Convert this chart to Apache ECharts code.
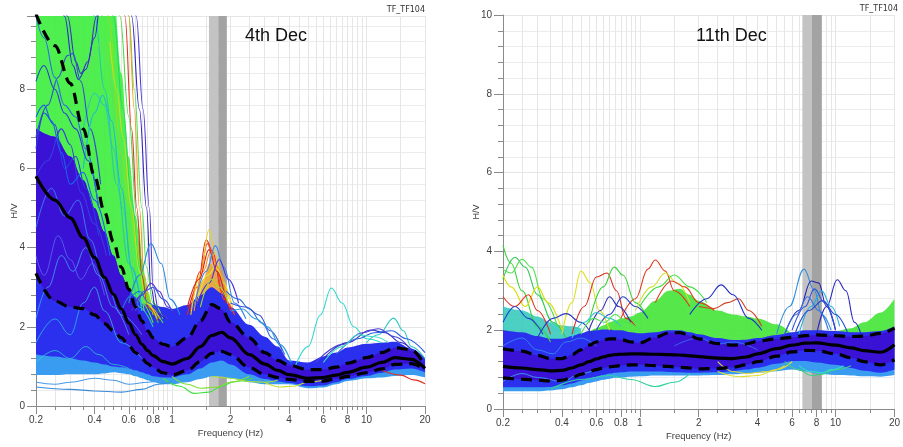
<!DOCTYPE html>
<html>
<head>
<meta charset="utf-8">
<script src="https://cdn.jsdelivr.net/npm/echarts@6/dist/echarts.min.js"></script>
<style>
  html, body { margin: 0; padding: 0; background: #ffffff; }
  #chart { width: 903px; height: 447px; }
</style>
</head>
<body>
<div id="chart"></div>
<script>
// ---------- shared frequency grid (Hz) ----------
const freqs = [0.2, 0.25, 0.3, 0.35, 0.4, 0.45, 0.5, 0.55, 0.6, 0.65, 0.7, 0.75, 0.8, 0.9, 1.0,
               1.2, 1.4, 1.6, 1.8, 2.0, 2.5, 3.0, 3.5, 4.0, 5.0, 6.0, 7.0, 8.0, 10, 12, 14, 17, 20];
const labelFreqs = [0.2, 0.4, 0.6, 0.8, 1, 2, 4, 6, 8, 10, 20];
const tickFreqs = [0.2, 0.25, 0.3, 0.35, 0.4, 0.45, 0.5, 0.55, 0.6, 0.65, 0.7, 0.75, 0.8, 0.85, 0.9, 0.95, 1,
                   1.5, 2, 2.5, 3, 3.5, 4, 4.5, 5, 5.5, 6, 6.5, 7, 7.5, 8, 8.5, 9, 9.5, 10, 15, 20];

// ---------- 4th Dec : average H/V and +/- one standard deviation ----------
const dec4Mean  = [5.8, 5.2, 4.75, 4.25, 3.75, 3.25, 2.82, 2.45, 2.1, 1.8, 1.56, 1.4, 1.27, 1.12, 1.06,
                   1.2, 1.5, 1.78, 1.86, 1.72, 1.3, 1.06, 0.9, 0.79, 0.7, 0.72, 0.78, 0.85, 0.98, 1.1, 1.22, 1.18, 0.95];
const dec4Upper = [9.9, 9.1, 8.15, 7.0, 5.8, 4.9, 4.15, 3.5, 2.95, 2.5, 2.15, 1.9, 1.72, 1.56, 1.5,
                   1.72, 2.15, 2.56, 2.45, 2.12, 1.72, 1.35, 1.15, 1.03, 0.92, 0.92, 0.98, 1.08, 1.22, 1.35, 1.47, 1.42, 1.02];
const dec4Lower = [3.35, 2.65, 2.5, 2.46, 2.3, 2.08, 1.9, 1.72, 1.52, 1.35, 1.2, 1.07, 0.97, 0.84, 0.78,
                   0.9, 1.12, 1.33, 1.38, 1.3, 0.97, 0.8, 0.72, 0.67, 0.62, 0.63, 0.69, 0.75, 0.84, 0.94, 1.05, 1.07, 0.92];
// spread of the bulk of the windows
const dec4CloudTop    = [7.0, 6.8, 6.3, 5.7, 5.0, 4.4, 3.8, 3.3, 2.95, 2.75, 2.6, 2.55, 2.55, 2.5, 2.45,
                         2.55, 2.8, 3.0, 2.85, 2.5, 2.05, 1.75, 1.5, 1.15, 1.1, 1.25, 1.35, 1.48, 1.57, 1.6, 1.62, 1.45, 1.2];
const dec4CloudBottom = [1.3, 1.25, 1.2, 1.15, 1.1, 1.05, 1.0, 0.98, 0.95, 0.9, 0.85, 0.8, 0.75, 0.72, 0.72,
                         0.8, 0.95, 1.1, 1.15, 1.05, 0.8, 0.68, 0.62, 0.58, 0.5, 0.52, 0.6, 0.68, 0.76, 0.84, 0.92, 0.95, 0.85];
const dec4CloudFloor  = [0.78, 0.78, 0.8, 0.8, 0.8, 0.82, 0.85, 0.83, 0.8, 0.75, 0.7, 0.65, 0.6, 0.55, 0.55,
                         0.6, 0.68, 0.75, 0.75, 0.7, 0.6, 0.55, 0.55, 0.55, 0.45, 0.47, 0.55, 0.63, 0.7, 0.72, 0.76, 0.78, 0.72];
// low-frequency windows running off the top of the scale
const dec4FanFreqs  = [0.2, 0.25, 0.3, 0.35, 0.4, 0.45, 0.5, 0.55, 0.6, 0.65, 0.7, 0.75, 0.8, 0.9, 1.0];
const dec4FanTop    = [12, 12, 12, 12, 12, 11.5, 10.5, 8.4, 6.3, 4.8, 3.7, 2.9, 2.5, 2.3, 2.2];
const dec4FanBottom = [5.0, 4.6, 4.2, 3.8, 3.4, 3.0, 2.7, 2.4, 2.2, 2.0, 1.9, 1.8, 1.7, 1.6, 1.5];
// windows peaking near 1.6 Hz
const dec4PeakFreqs  = [1.35, 1.45, 1.55, 1.65, 1.75, 1.85];
const dec4PeakTop    = [2.7, 3.2, 3.6, 3.5, 3.1, 2.7];
const dec4PeakBottom = [2.5, 2.6, 2.7, 2.7, 2.6, 2.5];
const dec4PeakBand  = [1.55, 1.73, 1.915];

// individual windows, [frequency, H/V]
const dec4Windows = [
  [[0.5,11],[0.54,9.85],[0.6,7.3],[0.66,4.8],[0.72,3.0],[0.78,2.4],[0.9,2.1]],
  [[0.45,11],[0.5,9.85],[0.56,7.5],[0.62,5.2],[0.68,3.5],[0.74,2.6],[0.85,2.1]],
  [[0.4,11],[0.44,9.85],[0.5,7.8],[0.56,5.6],[0.62,3.8],[0.7,2.6],[0.8,2.1]],
  [[0.35,11],[0.4,9.85],[0.45,8.0],[0.52,5.6],[0.6,3.6],[0.68,2.5],[0.8,2.0]],
  [[0.43,11],[0.47,9.85],[0.55,6.4],[0.6,5.1],[0.66,4.0],[0.72,3.0],[0.8,2.3]],
  [[0.56,11],[0.6,9.85],[0.64,8.0],[0.7,5.0],[0.74,3.5],[0.8,2.6],[0.9,2.2]],
  [[0.36,8.0],[0.4,8.9],[0.43,9.2],[0.47,8.6],[0.52,7.0],[0.58,5.0],[0.65,3.2],[0.72,2.4]],
  [[0.35,7.0],[0.4,7.9],[0.45,7.6],[0.5,6.5],[0.56,5.0],[0.62,3.5],[0.7,2.5]],
  [[0.58,11.5],[0.62,9.85],[0.68,7.5],[0.74,5.0],[0.78,3.0],[0.83,2.35],[0.92,2.2]],
  [[0.6,11.5],[0.655,9.85],[0.71,7.5],[0.765,5.0],[0.8,3.0],[0.86,2.35],[0.95,2.2]],
  [[0.54,11],[0.573,9.85],[0.62,7.0],[0.66,5.0],[0.7,3.3],[0.75,2.5],[0.85,2.15]],
  [[0.56,11],[0.6,9.85],[0.64,7.5],[0.68,5.0],[0.72,3.3],[0.77,2.5],[0.87,2.2]],
  [[0.48,9.2],[0.52,8.0],[0.56,6.8],[0.62,5.0],[0.68,3.4],[0.74,2.6],[0.84,2.2]],
  [[0.25,11.5],[0.28,9.85],[0.31,8.6],[0.33,8.25],[0.36,8.5],[0.4,9.3],[0.43,10.2],[0.46,11]],
  [[0.26,11.5],[0.29,9.85],[0.32,8.7],[0.34,8.4],[0.37,8.7],[0.41,9.85],[0.44,11]],
  [[0.2,6.8],[0.23,7.6],[0.26,8.3],[0.29,8.85],[0.31,8.9],[0.34,8.2],[0.38,7.0],[0.43,5.6]],
  [[0.35,6.0],[0.4,7.4],[0.44,7.85],[0.49,7.2],[0.55,5.5],[0.62,3.5],[0.7,2.4]],
  [[0.2,6.5],[0.22,7.4],[0.25,7.1],[0.28,6.0],[0.32,6.3],[0.36,5.5],[0.42,4.3]],
  [[0.2,5.8],[0.23,6.2],[0.27,7.0],[0.3,6.6],[0.34,5.4],[0.4,4.6],[0.46,3.8]],
  [[0.2,7.3],[0.22,7.6],[0.24,7.2],[0.27,6.4],[0.3,5.6],[0.35,5.9],[0.4,5.2],[0.48,3.8]],
  [[0.2,8.2],[0.22,8.6],[0.25,8.0],[0.28,7.4],[0.32,7.0],[0.37,6.2],[0.42,5.0]],
  [[0.2,9.85],[0.22,9.3],[0.25,8.3],[0.28,7.6],[0.32,7.3],[0.36,6.5],[0.42,5.0]],
  [[0.6,2.6],[0.68,3.3],[0.78,4.1],[0.88,3.6],[0.98,2.7],[1.1,2.3]],
  [[0.62,2.4],[0.7,2.8],[0.78,3.1],[0.86,2.9],[0.95,2.5],[1.05,2.3]],
  [[0.65,2.4],[0.72,2.9],[0.8,3.0],[0.9,2.7],[1.0,2.4]],
  [[0.55,2.4],[0.62,2.8],[0.68,2.9],[0.76,2.6],[0.85,2.35]],
  [[1.2,2.3],[1.35,3.0],[1.5,4.2],[1.62,3.9],[1.8,2.9],[2.0,2.4]],
  [[1.25,2.4],[1.4,3.4],[1.52,4.1],[1.65,3.7],[1.85,2.7],[2.1,2.3]],
  [[1.25,2.3],[1.4,3.3],[1.55,4.45],[1.68,3.8],[1.85,3.0],[2.05,2.5]],
  [[1.3,2.4],[1.45,3.4],[1.58,3.9],[1.72,3.5],[1.9,2.8]],
  [[1.3,2.5],[1.48,3.2],[1.62,3.6],[1.78,3.3],[1.95,2.7]],
  [[1.35,2.6],[1.52,3.3],[1.68,3.5],[1.85,3.1],[2.0,2.6]],
  [[1.2,2.5],[1.38,3.2],[1.55,3.95],[1.7,3.4],[1.9,2.6]],
  [[1.3,2.5],[1.5,3.4],[1.67,4.05],[1.85,3.5],[2.1,2.6],[2.4,2.2]],
  [[1.35,2.6],[1.55,3.1],[1.75,3.7],[1.95,3.2],[2.2,2.6]],
  [[1.4,2.5],[1.6,3.2],[1.75,3.0],[1.95,2.6]],
  [[1.9,2.9],[2.2,2.7],[2.5,2.45],[2.9,2.1],[3.3,1.7],[3.8,1.3]],
  [[2.0,2.6],[2.4,2.5],[2.8,2.3],[3.2,1.9],[3.7,1.4]],
  [[2.0,2.4],[2.3,2.45],[2.7,2.2],[3.1,2.0],[3.6,1.55],[4.1,1.1]],
  [[4.3,1.0],[5.0,1.5],[5.8,2.3],[6.6,2.98],[7.5,2.6],[8.6,2.0],[10,1.7],[12,1.6]],
  [[10,1.6],[11.5,1.8],[13.8,2.22],[15.5,1.9],[17,1.5],[20,1.2]],
  [[6,1.2],[8,1.6],[10.5,1.92],[12.5,1.85],[15,1.6],[18,1.3]],
  [[5.5,1.1],[7.5,1.55],[9.5,1.85],[11.5,1.95],[14,1.75],[17,1.4]],
  [[7,1.3],[9,1.7],[11,1.85],[13.5,1.9],[16,1.7],[20,1.35]],
  [[6,1.1],[7.5,1.5],[9,1.8],[11,1.75],[13,1.6]],
  [[12,0.9],[15,0.78],[17.5,0.66],[20,0.56]],
  [[0.9,0.7],[1.1,0.5],[1.3,0.32],[1.55,0.35],[1.8,0.5],[2.1,0.62],[2.6,0.7]],
  [[1.0,0.75],[1.2,0.55],[1.4,0.45],[1.7,0.48],[2.0,0.6],[2.5,0.75]],
  [[1.6,0.75],[2.0,0.7],[2.5,0.62],[3.0,0.6],[3.5,0.65]],
  [[0.2,0.48],[0.3,0.42],[0.4,0.38],[0.55,0.35],[0.7,0.42],[0.85,0.55],[1.0,0.62]],
  [[0.2,0.6],[0.25,0.55],[0.3,0.6],[0.4,0.7],[0.5,0.65],[0.6,0.55],[0.75,0.6],[0.9,0.7]],
  [[3.0,0.6],[3.6,0.48],[4.2,0.5],[5.0,0.6],[6,0.65]]
];
const dec4WindowColors = [
  '#40e040', '#28d860', '#60e838', '#30c8a0', '#8ce020', '#50e050', '#60e060', '#30c8b0',
  '#3020c0', '#4a38d8', '#e03020', '#f0a020', '#d8d820',
  '#2a2ad0', '#3a30c8', '#3050d0', '#20b8d8', '#2540e0', '#3a3ae0', '#1c60f0', '#2a3cd8', '#2c6ee8',
  '#2888e0', '#4a2ad0', '#3a5ae0', '#2070d8',
  '#e02818', '#ff4020', '#e8d020', '#ff9020', '#f0b020', '#e0e040', '#d82010', '#3a80e8', '#4a30d8', '#a0e020',
  '#2a70e0', '#3050d8', '#30a0e0',
  '#30d8d0', '#30c8c0', '#3030c8', '#4a40d8', '#2860e0', '#40e0c0',
  '#e03020', '#40e040', '#80e030', '#a0e040', '#3a8ad8', '#4a9ae8', '#c8e030'
];
// lighter windows seen through the main cloud
const dec4Inner = [
  [[0.2,4.5],[0.24,5.5],[0.28,4.8],[0.33,5.2],[0.38,4.2],[0.45,3.2],[0.55,2.3],[0.7,1.8]],
  [[0.2,2.2],[0.23,3.0],[0.27,3.8],[0.31,3.4],[0.36,4.0],[0.42,3.3],[0.5,2.5],[0.6,1.8]],
  [[0.2,1.6],[0.25,2.2],[0.3,1.8],[0.35,2.6],[0.4,3.0],[0.45,2.4],[0.55,1.6],[0.7,1.2]],
  [[0.2,3.8],[0.22,3.3],[0.26,4.3],[0.3,3.7],[0.34,3.2],[0.39,3.6],[0.45,2.8]],
  [[0.2,1.1],[0.25,1.4],[0.3,1.2],[0.36,1.5],[0.42,1.3],[0.5,1.05],[0.6,0.95]]
];
const dec4InnerColors = ['#3a9af0', '#40b0f0', '#30c0e8', '#5a70f0', '#30d0d0'];

// ---------- 11th Dec ----------
const dec11Mean  = [1.08, 1.04, 1.0, 0.97, 0.98, 1.04, 1.12, 1.2, 1.27, 1.32, 1.36, 1.38, 1.39, 1.4, 1.4,
                    1.39, 1.38, 1.37, 1.35, 1.33, 1.29, 1.28, 1.32, 1.4, 1.53, 1.62, 1.67, 1.68, 1.62, 1.55, 1.48, 1.44, 1.63];
const dec11Upper = [1.53, 1.47, 1.36, 1.28, 1.28, 1.38, 1.5, 1.62, 1.7, 1.75, 1.78, 1.78, 1.76, 1.7, 1.68,
                    1.82, 1.93, 1.94, 1.86, 1.78, 1.66, 1.62, 1.65, 1.72, 1.78, 1.82, 1.86, 1.88, 1.86, 1.84, 1.85, 1.92, 2.05];
const dec11Lower = [0.79, 0.76, 0.73, 0.71, 0.73, 0.8, 0.88, 0.95, 1.0, 1.04, 1.07, 1.09, 1.1, 1.12, 1.12,
                    1.1, 1.08, 1.06, 1.04, 1.02, 1.03, 1.06, 1.12, 1.2, 1.34, 1.45, 1.49, 1.48, 1.4, 1.3, 1.2, 1.12, 1.25];
const dec11CloudTop    = [2.0, 1.95, 1.85, 1.78, 1.78, 1.85, 1.92, 1.98, 2.0, 2.02, 2.02, 2.0, 2.0, 1.95, 1.92,
                          1.95, 2.0, 2.0, 1.95, 1.9, 1.8, 1.75, 1.76, 1.8, 1.88, 1.95, 2.0, 2.0, 1.98, 1.95, 1.95, 1.98, 2.1];
const dec11CloudBottom = [0.55, 0.55, 0.55, 0.56, 0.6, 0.65, 0.72, 0.78, 0.82, 0.86, 0.9, 0.92, 0.93, 0.95, 0.95,
                          0.95, 0.94, 0.93, 0.92, 0.92, 0.93, 0.96, 1.0, 1.05, 1.15, 1.22, 1.22, 1.18, 1.12, 1.04, 0.97, 0.92, 1.0];
const dec11CloudFloor  = [0.45, 0.45, 0.45, 0.47, 0.5, 0.55, 0.6, 0.66, 0.7, 0.74, 0.77, 0.79, 0.8, 0.82, 0.83,
                          0.85, 0.85, 0.85, 0.85, 0.85, 0.86, 0.88, 0.9, 0.92, 0.96, 1.0, 0.95, 0.9, 0.86, 0.85, 0.83, 0.82, 0.86];
const dec11TealFreqs  = [0.2, 0.25, 0.3, 0.35, 0.4, 0.45, 0.5];
const dec11TealTop    = [2.6, 2.5, 2.35, 2.2, 2.12, 2.1, 2.05];
const dec11TealBottom = [1.6, 1.6, 1.6, 1.55, 1.55, 1.6, 1.6];
const dec11GreenFreqs  = [0.55, 0.6, 0.65, 0.7, 0.75, 0.8, 0.9, 1.0, 1.2, 1.4, 1.6, 1.8, 2.0, 2.5, 3.0, 3.5, 4.0, 5.0, 6.0];
const dec11GreenTop    = [1.95, 2.05, 2.12, 2.2, 2.25, 2.3, 2.35, 2.45, 2.75, 3.0, 3.05, 2.9, 2.75, 2.5, 2.4, 2.35, 2.3, 2.15, 1.9];
const dec11GreenBottom = [1.65, 1.7, 1.7, 1.7, 1.7, 1.7, 1.7, 1.7, 1.7, 1.7, 1.7, 1.7, 1.7, 1.6, 1.6, 1.6, 1.6, 1.6, 1.6];
const dec11HighFreqs  = [10, 12, 14, 17, 20];
const dec11HighTop    = [1.95, 2.05, 2.2, 2.45, 2.8];
const dec11HighBottom = [1.6, 1.6, 1.6, 1.6, 1.7];
const dec11PeakBand   = [6.77, 7.58, 8.51];

const dec11Windows = [
  [[0.2,4.15],[0.22,3.7],[0.25,3.0],[0.3,2.1],[0.35,1.7]],
  [[0.2,3.3],[0.23,3.85],[0.26,3.6],[0.3,2.9],[0.36,2.2],[0.42,1.8]],
  [[0.2,3.55],[0.22,3.45],[0.25,3.8],[0.28,3.6],[0.32,2.8],[0.38,2.1]],
  [[0.2,3.4],[0.22,3.1],[0.26,2.6],[0.3,3.1],[0.34,2.7],[0.4,2.0]],
  [[0.2,2.85],[0.23,2.6],[0.27,2.9],[0.3,2.5],[0.35,1.9]],
  [[0.4,1.9],[0.45,2.7],[0.5,3.5],[0.56,3.2],[0.62,2.5],[0.7,2.0]],
  [[0.45,1.9],[0.52,2.6],[0.6,3.35],[0.68,3.45],[0.76,3.0],[0.85,2.3],[0.95,2.1]],
  [[0.55,2.2],[0.65,3.1],[0.74,3.6],[0.82,3.4],[0.95,2.7],[1.1,2.3]],
  [[0.8,2.3],[0.95,2.8],[1.1,3.55],[1.2,3.78],[1.35,3.5],[1.5,3.0],[1.8,2.6]],
  [[0.95,2.5],[1.15,3.1],[1.35,3.45],[1.55,3.2],[1.8,2.7]],
  [[1.2,2.7],[1.45,3.25],[1.7,3.1],[2.0,2.7],[2.4,2.5]],
  [[1.0,2.6],[1.25,3.1],[1.5,3.4],[1.8,3.1],[2.2,2.7]],
  [[2.0,2.6],[2.4,2.55],[2.8,2.7],[3.2,2.8],[3.6,2.5],[4.2,2.1]],
  [[1.8,2.4],[2.2,2.8],[2.6,3.15],[3.0,2.9],[3.6,2.3],[4.2,2.0]],
  [[5.0,1.9],[5.8,2.6],[6.9,3.55],[7.8,3.0],[8.5,2.4],[9.5,2.0]],
  [[5.5,1.9],[6.5,2.5],[7.5,3.25],[8.2,3.2],[9.0,2.6],[10,2.0]],
  [[8.0,1.9],[9.0,2.6],[10.2,3.28],[11.3,3.0],[12.5,2.2],[13.5,1.9]],
  [[6.5,1.9],[7.5,2.6],[8.5,3.0],[9.5,2.6],[10.5,2.1]],
  [[6,2.0],[7,2.6],[7.8,3.05],[8.8,2.7],[10,2.0]],
  [[5.5,1.9],[6.3,2.4],[7.2,2.85],[8.2,2.5],[9.2,2.0]],
  [[6.2,1.9],[7.3,2.5],[8.6,2.75],[10,2.4],[11.5,1.95]],
  [[0.2,2.2],[0.23,2.6],[0.27,2.3],[0.32,1.9]],
  [[0.6,2.0],[0.7,2.4],[0.82,2.85],[0.95,2.6],[1.1,2.3]],
  [[0.3,1.8],[0.36,2.3],[0.42,2.42],[0.5,2.2],[0.58,1.8]],
  [[0.55,2.0],[0.63,2.5],[0.7,2.85],[0.78,2.6],[0.9,2.2]],
  [[0.35,0.5],[0.5,0.75],[0.7,0.85],[0.9,0.75],[1.2,0.57],[1.5,0.68],[1.8,0.9]],
  [[2.5,0.95],[3.2,0.82],[4.0,0.85],[5.0,1.0],[6.0,1.2]],
  [[5.5,1.2],[6.5,1.0],[7.5,0.85],[8.5,0.88],[10,1.0],[12,1.1]],
  [[2.5,1.2],[3.0,0.95],[3.5,0.9],[4.5,0.95],[5.5,1.1]],
  [[6.5,1.1],[7.5,0.95],[8.5,0.92],[9.5,1.0],[11,1.1]],
  [[0.45,1.8],[0.52,2.2],[0.6,2.45],[0.7,2.3],[0.8,2.1]],
  [[0.5,1.9],[0.58,2.3],[0.66,2.2],[0.75,2.4],[0.85,2.2],[1.0,2.0]]
];
const dec11WindowColors = [
  '#3cd23c', '#30c850', '#4ce04c', '#d8e000', '#e03020', '#e0e020', '#d83020', '#3cd23c',
  '#e03a1a', '#d0e030', '#e04020', '#40e040', '#d04020', '#2030c8',
  '#2f8fe0', '#2020b0', '#2a28c0', '#20b0e0', '#3050e0', '#3a70e8', '#2848d0',
  '#2040d0', '#2840c8', '#2838c0', '#3030b0',
  '#30d0a0', '#e0e030', '#40d080', '#d8d840', '#30e0c0',
  '#30c8d0', '#50e050'
];
const dec11Inner = [
  [[0.2,1.6],[0.25,1.8],[0.3,1.5],[0.36,1.4],[0.42,1.7],[0.5,1.8],[0.6,1.6]],
  [[0.2,0.7],[0.25,0.9],[0.3,0.8],[0.4,0.7],[0.5,0.9],[0.6,1.0]],
  [[1.5,1.6],[2,1.8],[2.5,1.65],[3,1.7],[4,1.5]]
];
const dec11InnerColors = ['#3a9af0', '#40b8e8', '#3a80f0'];

// ---------- helpers ----------
const lg = Math.log10;
const onGrid = (fs, vs) => fs.map((f, i) => [lg(f), vs[i]]);
const fromPairs = c => c.map(p => [lg(p[0]), p[1]]);

// Filled band between two curves. The H/V value is put in the first
// dimension so that stacking is applied to H/V and not to frequency.
function band(grid, fs, lo, hi, color, key, opacity, extra) {
  const common = {
    type: 'line', xAxisIndex: grid * 2, yAxisIndex: grid, stack: key,
    encode: { x: 1, y: 0 }, smooth: 0.35, smoothMonotone: 'x', symbol: 'none',
    lineStyle: { width: 0, opacity: 0 }, silent: true, animation: false
  };
  const base = Object.assign({}, common, { data: fs.map((f, i) => [lo[i], lg(f)]) }, extra || {});
  const top = Object.assign({}, common, {
    data: fs.map((f, i) => [hi[i] - lo[i], lg(f)]),
    areaStyle: { color: color, opacity: opacity }
  });
  return [base, top];
}
function curves(grid, list, colors, width, opacity) {
  return list.map((c, i) => ({
    type: 'line', xAxisIndex: grid * 2, yAxisIndex: grid, data: fromPairs(c),
    smooth: 0.4, smoothMonotone: 'x', symbol: 'none',
    lineStyle: { color: colors[i], width: width, opacity: opacity }, silent: true, animation: false
  }));
}
function stat(grid, vs, dashed) {
  return {
    type: 'line', xAxisIndex: grid * 2, yAxisIndex: grid, data: onGrid(freqs, vs),
    smooth: 0.35, smoothMonotone: 'x', symbol: 'none',
    lineStyle: { color: '#000', width: 3.2, type: dashed ? [11, 7] : 'solid' }, silent: true, animation: false
  };
}
function peakBand(b) {
  return {
    silent: true,
    data: [
      [{ xAxis: lg(b[0]), itemStyle: { color: '#c3c3c3' } }, { xAxis: lg(b[1]) }],
      [{ xAxis: lg(b[1]), itemStyle: { color: '#a3a3a3' } }, { xAxis: lg(b[2]) }]
    ]
  };
}
const labelOf = v => {
  let best = labelFreqs[0];
  labelFreqs.forEach(f => { if (Math.abs(lg(f) - v) < Math.abs(lg(best) - v)) best = f; });
  return String(best);
};
const axisGrey = '#8a8a8a';
const textGrey = '#404040';
function xMajor(grid) {
  return {
    type: 'value', gridIndex: grid, position: 'bottom', min: lg(0.2), max: lg(20),
    axisLine: { show: true, onZero: false, lineStyle: { color: axisGrey } },
    axisTick: { show: true, length: 8, customValues: labelFreqs.map(lg), lineStyle: { color: axisGrey } },
    axisLabel: { customValues: labelFreqs.map(lg), formatter: labelOf, color: textGrey, fontSize: 10,
                 fontFamily: 'Liberation Sans', margin: 9 },
    splitLine: { show: false },
    name: 'Frequency (Hz)', nameLocation: 'middle', nameGap: 22, nameMoveOverlap: false,
    nameTextStyle: { color: textGrey, fontSize: 9.5, fontFamily: 'Liberation Sans' }
  };
}
function xMinor(grid) {
  return {
    type: 'value', gridIndex: grid, position: 'bottom', min: lg(0.2), max: lg(20),
    axisLine: { show: false, onZero: false },
    axisTick: { show: true, length: 4, customValues: tickFreqs.map(lg), lineStyle: { color: axisGrey } },
    axisLabel: { show: false },
    splitLine: { show: true, lineStyle: { color: '#e6e6e6', width: 1 } }
  };
}
function yAxis(grid, max, gap, showMax) {
  return {
    type: 'value', gridIndex: grid, position: 'left', min: 0, max: max, interval: 2,
    axisLine: { show: true, onZero: false, lineStyle: { color: axisGrey } },
    axisTick: { show: true, length: 9, lineStyle: { color: axisGrey } },
    minorTick: { show: true, splitNumber: 5, length: 5, lineStyle: { color: axisGrey } },
    splitLine: { show: true, lineStyle: { color: '#e6e6e6' } },
    minorSplitLine: { show: true, lineStyle: { color: '#ececec' } },
    axisLabel: { color: textGrey, fontSize: 10, fontFamily: 'Liberation Sans', margin: 11, showMaxLabel: showMax },
    name: 'H/V', nameLocation: 'middle', nameGap: gap, nameMoveOverlap: false,
    nameTextStyle: { color: textGrey, fontSize: 9, fontFamily: 'Liberation Sans' }
  };
}

// ---------- series, back to front ----------
const series = [];
// 4th Dec
series.push(...band(0, dec4FanFreqs, dec4FanBottom, dec4FanTop, '#40ee40', 'd4fan', 0.92,
                    { markArea: peakBand(dec4PeakBand) }));
series.push(...band(0, dec4PeakFreqs, dec4PeakBottom, dec4PeakTop, '#f0a030', 'd4peak', 0.85));
series.push(...curves(0, dec4Windows, dec4WindowColors, 1.1, 1));
series.push(...band(0, freqs, dec4CloudFloor, dec4Mean, '#3a9cf0', 'd4floor', 1));
series.push(...band(0, freqs, dec4CloudBottom, dec4CloudTop, '#2a30ee', 'd4cloud', 1));
series.push(...curves(0, dec4Inner, dec4InnerColors, 1, 0.75));
series.push(...band(0, freqs, dec4Lower, freqs.map((f, i) => Math.min(dec4Upper[i], dec4CloudTop[i])),
                    '#3a12d6', 'd4core', 1));
series.push(stat(0, dec4Upper, true), stat(0, dec4Lower, true), stat(0, dec4Mean, false));
// 11th Dec
series.push(...band(1, dec11TealFreqs, dec11TealBottom, dec11TealTop, '#2cc8b8', 'd11teal', 0.85,
                    { markArea: peakBand(dec11PeakBand) }));
series.push(...band(1, dec11GreenFreqs, dec11GreenBottom, dec11GreenTop, '#48e63c', 'd11green', 0.92));
series.push(...band(1, dec11HighFreqs, dec11HighBottom, dec11HighTop, '#48e63c', 'd11high', 0.92));
series.push(...curves(1, dec11Windows, dec11WindowColors, 1.1, 1));
series.push(...band(1, freqs, dec11CloudFloor, dec11Mean, '#3a9cf0', 'd11floor', 1));
series.push(...band(1, freqs, dec11CloudBottom, dec11CloudTop, '#2a30ee', 'd11cloud', 1));
series.push(...curves(1, dec11Inner, dec11InnerColors, 1, 0.75));
series.push(...band(1, freqs, dec11Lower, dec11Upper, '#3a12d6', 'd11core', 1));
series.push(stat(1, dec11Upper, true), stat(1, dec11Lower, true), stat(1, dec11Mean, false));

const chart = echarts.init(document.getElementById('chart'), null, { renderer: 'canvas' });
chart.setOption({
  animation: false,
  backgroundColor: '#ffffff',
  grid: [
    { left: 36, top: 16, width: 389, height: 390 },
    { left: 503, top: 15, width: 395, height: 394 }
  ],
  xAxis: [xMajor(0), xMinor(0), xMajor(1), xMinor(1)],
  yAxis: [yAxis(0, 9.85, 17, false), yAxis(1, 10, 22, true)],
  series: series,
  graphic: [
    { type: 'text', z: 100, left: 245, top: 27, style: { text: '4th Dec', font: '18px "Liberation Sans"', fill: '#111' } },
    { type: 'text', z: 100, left: 696, top: 27, style: { text: '11th Dec', font: '18px "Liberation Sans"', fill: '#111' } },
    { type: 'text', z: 100, right: 478, top: 6, style: { text: 'TF_TF104', font: '8px "DejaVu Sans"', fill: '#333' } },
    { type: 'text', z: 100, right: 5, top: 5, style: { text: 'TF_TF104', font: '8px "DejaVu Sans"', fill: '#333' } }
  ]
});
</script>
</body>
</html>
